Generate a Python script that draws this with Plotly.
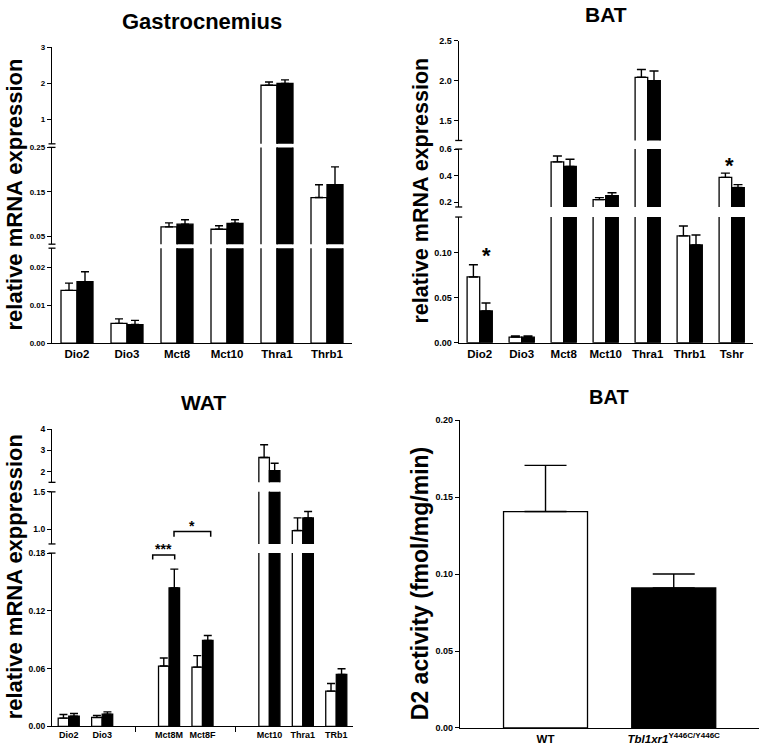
import plotly.graph_objects as go

# ---------------- data ----------------
gas_genes = ["Dio2", "Dio3", "Mct8", "Mct10", "Thra1", "Thrb1"]
gas_wt = [0.0139, 0.0052, 0.071, 0.0656, 1.95, 0.137]
gas_wt_sem = [0.0019, 0.0012, 0.009, 0.008, 0.09, 0.029]
gas_ko = [0.0162, 0.0049, 0.077, 0.079, 2.00, 0.166]
gas_ko_sem = [0.0026, 0.0011, 0.010, 0.008, 0.10, 0.040]

bat_genes = ["Dio2", "Dio3", "Mct8", "Mct10", "Thra1", "Thrb1", "Tshr"]
bat_wt = [0.0733, 0.0063, 0.504, 0.220, 2.042, 0.119, 0.387]
bat_wt_sem = [0.0135, 0.0013, 0.044, 0.015, 0.098, 0.011, 0.032]
bat_ko = [0.0355, 0.0062, 0.469, 0.250, 2.000, 0.109, 0.311]
bat_ko_sem = [0.0088, 0.0013, 0.054, 0.022, 0.120, 0.011, 0.022]

wat_groups = [["Dio2", "Dio3"], ["Mct8M", "Mct8F"], ["Mct10", "Thra1", "TRb1"]]
wat_wt = [0.0085, 0.0092, 0.0626, 0.0615, 2.67, 0.98, 0.0366]
wat_wt_sem = [0.0038, 0.0021, 0.0084, 0.012, 0.60, 0.17, 0.0078]
wat_ko = [0.0106, 0.0126, 0.1439, 0.0892, 2.05, 1.15, 0.054]
wat_ko_sem = [0.0027, 0.0024, 0.0195, 0.0052, 0.35, 0.085, 0.0058]

d2_groups = ["WT", "<i>Tbl1xr1</i><sup>Y446C/Y446C</sup>"]
d2_values = [0.1406, 0.091]
d2_sem = [0.030, 0.009]

# ---------------- layout helpers ----------------
W, H = 762, 753
FONT = "Liberation Sans, Arial, sans-serif"


def fx(p):
    return p / W


def fy(p):
    return 1 - p / H


fig = go.Figure()
layout = dict(
    width=W, height=H, margin=dict(l=0, r=0, t=0, b=0),
    paper_bgcolor="white", plot_bgcolor="rgba(0,0,0,0)",
    showlegend=False, barmode="overlay",
)
shapes = []
annotations = []

AX_W = 1.3


def add_panel(pid, xpx, xrange, xpos, xlabels, xfont, segments, wt, wt_sem, ko, ko_sem,
              bw, capw, first_yid):
    xname = "xaxis" if pid == 1 else f"xaxis{pid}"
    xref = "x" if pid == 1 else f"x{pid}"
    n_seg = len(segments)
    bottom_yid = first_yid + n_seg - 1
    layout[xname] = dict(
        domain=[fx(xpx[0]), fx(xpx[1])], range=xrange,
        anchor=f"y{bottom_yid}" if bottom_yid > 1 else "y",
        showline=True, linecolor="black", linewidth=AX_W,
        tickmode="array", tickvals=xpos, ticktext=xlabels, ticks="",
        tickfont=dict(family=FONT, size=xfont, color="black", weight="bold"),
        showgrid=False, zeroline=False, fixedrange=True,
    )
    for i, seg in enumerate(segments):
        yid = first_yid + i
        yname = "yaxis" if yid == 1 else f"yaxis{yid}"
        yref = "y" if yid == 1 else f"y{yid}"
        top, bot, rng, tv, tt, tfs = seg
        layout[yname] = dict(
            domain=[fy(bot), fy(top)], range=rng, anchor=xref,
            showline=True, linecolor="black", linewidth=AX_W,
            tickmode="array", tickvals=tv, ticktext=tt,
            ticks="outside", ticklen=4, tickwidth=AX_W, tickcolor="black",
            tickfont=dict(family=FONT, size=tfs, color="black", weight="bold"),
            showgrid=False, zeroline=False, fixedrange=True,
        )
        # break marks at segment ends
        if n_seg > 1:
            ends = []
            if i > 0:
                ends.append(top)
            if i < n_seg - 1:
                ends.append(bot)
            for e in ends:
                shapes.append(dict(type="line", xref="paper", yref="paper",
                                   x0=fx(xpx[0] - 3.5), x1=fx(xpx[0] + 3.5),
                                   y0=fy(e), y1=fy(e),
                                   line=dict(color="black", width=AX_W)))
        for vals, sems, col, off in ((wt, wt_sem, "white", -bw), (ko, ko_sem, "black", 0.0)):
            fig.add_trace(go.Bar(
                x=xpos, y=vals, width=bw, offset=off,
                marker=dict(color=col, line=dict(color="black", width=1.3)),
                error_y=dict(type="data", symmetric=False, array=sems,
                             arrayminus=[0] * len(sems), color="black",
                             thickness=1.4, width=capw),
                xaxis=xref, yaxis=yref, hoverinfo="skip",
            ))
    return bottom_yid + 1


# Gastrocnemius
nid = add_panel(
    1, (52, 352), [-0.5, len(gas_genes) - 0.5], list(range(len(gas_genes))), gas_genes, 11.5,
    [
        (43, 140.7, [0.323, 3], [1, 2, 3], ["1", "2", "3"], 8),
        (144.3, 242.4, [0.032, 0.25], [0.05, 0.15, 0.25], ["0.05", "0.15", "0.25"], 8),
        (246.45, 342.7, [0, 0.025], [0, 0.01, 0.02], ["0.00", "0.01", "0.02"], 8),
    ],
    gas_wt, gas_wt_sem, gas_ko, gas_ko_sem, 0.32, 4, 1)

# BAT mRNA
nid = add_panel(
    2, (458.7, 752.7), [-0.5, len(bat_genes) - 0.5], list(range(len(bat_genes))), bat_genes, 11.5,
    [
        (36, 137.3, [1.256, 2.5], [1.5, 2.0, 2.5], ["1.5", "2.0", "2.5"], 9),
        (146, 204.7, [0.165, 0.6], [0.2, 0.4, 0.6], ["0.2", "0.4", "0.6"], 9),
        (214.9, 342.3, [0, 0.14], [0, 0.05, 0.10], ["0.00", "0.05", "0.10"], 9),
    ],
    bat_wt, bat_wt_sem, bat_ko, bat_ko_sem, 0.30, 4.5, nid)

# WAT
wat_pos, wat_labels, gap_ticks = [], [], []
p = 0
for gi, g in enumerate(wat_groups):
    for name in g:
        wat_pos.append(p)
        wat_labels.append(name)
        p += 1
    if gi < len(wat_groups) - 1:
        gap_ticks.append(p)
        p += 1
nid = add_panel(
    3, (52, 353), [-0.5, p - 0.5], wat_pos, wat_labels, 9,
    [
        (430, 483.75, [1.5, 4], [2, 3, 4], ["2", "3", "4"], 8.5),
        (493.4, 546.2, [0.8, 1.5], [1.0, 1.5], ["1.0", "1.5"], 8.5),
        (555.5, 731, [0, 0.18], [0, 0.06, 0.12, 0.18], ["0.00", "0.06", "0.12", "0.18"], 8.5),
    ],
    wat_wt, wat_wt_sem, wat_ko, wat_ko_sem, 0.315, 4, nid)
layout["xaxis3"]["minor"] = dict(tickmode="array", tickvals=gap_ticks, ticks="outside",
                                 ticklen=5, tickwidth=AX_W, tickcolor="black")

# D2 activity
d2_y = nid
layout["xaxis4"] = dict(
    domain=[fx(460), fx(759)], range=[-0.667, 1.665], anchor=f"y{d2_y}",
    showline=True, linecolor="black", linewidth=AX_W,
    tickmode="array", tickvals=[0, 1], ticktext=d2_groups, ticks="",
    tickfont=dict(family=FONT, size=11.5, color="black", weight="bold"),
    showgrid=False, zeroline=False, fixedrange=True,
)
layout[f"yaxis{d2_y}"] = dict(
    domain=[fy(732.7), fy(420.7)], range=[0, 0.2], anchor="x4",
    showline=True, linecolor="black", linewidth=AX_W,
    tickmode="array", tickvals=[0, 0.05, 0.10, 0.15, 0.20],
    ticktext=["0.00", "0.05", "0.10", "0.15", "0.20"],
    ticks="outside", ticklen=4, tickwidth=AX_W, tickcolor="black",
    tickfont=dict(family=FONT, size=9, color="black", weight="bold"),
    showgrid=False, zeroline=False, fixedrange=True,
)
fig.add_trace(go.Bar(
    x=[0, 1], y=d2_values, width=0.655,
    marker=dict(color=["white", "black"], line=dict(color="black", width=1.3)),
    error_y=dict(type="data", symmetric=False, array=d2_sem, arrayminus=[0, 0],
                 color="black", thickness=1.4, width=21),
    xaxis="x4", yaxis=f"y{d2_y}", hoverinfo="skip",
))

# ---------------- titles & labels ----------------
def text(x, y, s, size, angle=0):
    annotations.append(dict(x=fx(x), y=fy(y), xref="paper", yref="paper", text=s,
                            showarrow=False, textangle=angle, xanchor="center", yanchor="middle",
                            font=dict(family=FONT, size=size, color="black", weight="bold")))


text(202, 17, "Gastrocnemius", 22)
text(606, 10, "BAT", 21)
text(203, 403, "WAT", 21)
text(609, 397, "BAT", 20)
text(14, 192, "relative mRNA expression", 22, -90)
text(421, 188, "relative mRNA expression", 21.5, -90)
text(14, 580, "relative mRNA exppression", 22, -90)
text(420, 587, "D2 activity (fmol/mg/min)", 23, -90)

# significance marks
text(486, 254, "*", 22)
text(729, 163, "*", 22)
text(163, 551, "***", 14)
text(192, 528, "*", 14)
for (x0, x1, yb, yl) in ((152.7, 174.7, 557.3, 562), (174, 210.7, 533.7, 539)):
    shapes.append(dict(type="path", xref="paper", yref="paper",
                       path=f"M {fx(x0)} {fy(yl)} L {fx(x0)} {fy(yb)} L {fx(x1)} {fy(yb)} L {fx(x1)} {fy(yl)}",
                       line=dict(color="black", width=1.5)))

layout["shapes"] = shapes
layout["annotations"] = annotations
fig.update_layout(**layout)
fig.write_html("out.html")
